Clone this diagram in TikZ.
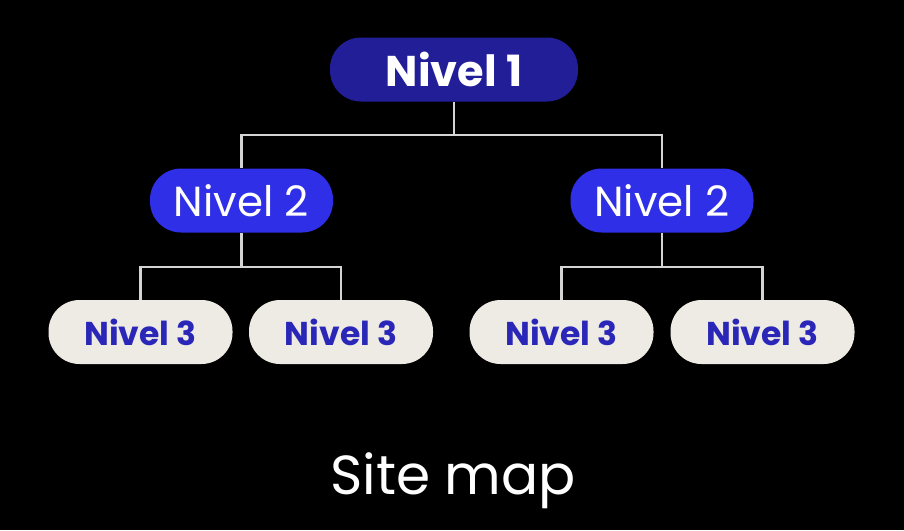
\documentclass[tikz,border=0pt]{standalone}
\usepackage{fontspec}
\setmainfont{Poppins}
\definecolor{navy}{HTML}{211E98}
\definecolor{vivid}{HTML}{2F2FE8}
\definecolor{pale}{HTML}{EEEBE5}
\definecolor{ink}{HTML}{2A27B8}
\definecolor{wire}{HTML}{D4D4D4}
\begin{document}
\begin{tikzpicture}[x=1pt,y=-1pt,
  pill/.style={rounded corners=31pt, minimum height=64pt, inner sep=0pt, text depth=0pt},
  lvlone/.style={pill, fill=navy, text=white, minimum width=248pt, font=\fontsize{43}{43}\selectfont\bfseries},
  lvltwo/.style={pill, fill=vivid, text=white, minimum width=183pt, font=\fontsize{42}{42}\selectfont},
  lvlthree/.style={pill, fill=pale, text=ink, minimum width=184pt, font=\fontsize{33}{33}\selectfont\bfseries},
  wireline/.style={draw=wire, line width=2.2pt}]
\fill[black] (0,0) rectangle (904,530);
\useasboundingbox (0,0) rectangle (904,530);
\node[lvlone] (n1) at (454,69.5) {Nivel 1};
\node[lvltwo] (a) at (241.5,200.5) {Nivel 2};
\node[lvltwo] (b) at (662,200.5) {Nivel 2};
\node[lvlthree] (a1) at (140.5,332) {Nivel 3};
\node[lvlthree] (a2) at (341,332) {Nivel 3};
\node[lvlthree] (b1) at (561.5,332) {Nivel 3};
\node[lvlthree] (b2) at (762.5,332) {Nivel 3};
\coordinate (j1) at (454,135);
\coordinate (ja) at (241.5,267);
\coordinate (jb) at (662,267);
\draw[wireline] (n1.south) -- (j1);
\draw[wireline] (j1) -| (a.north);
\draw[wireline] (j1) -| (b.north);
\draw[wireline] (a.south) -- (ja);
\draw[wireline] (ja) -| (a1.north);
\draw[wireline] (ja) -| (a2.north);
\draw[wireline] (b.south) -- (jb);
\draw[wireline] (jb) -| (b1.north);
\draw[wireline] (jb) -| (b2.north);
\node[text=white, font=\fontsize{55}{55}\selectfont, anchor=base] (title) at (453,494) {Site map};
\end{tikzpicture}
\end{document}
